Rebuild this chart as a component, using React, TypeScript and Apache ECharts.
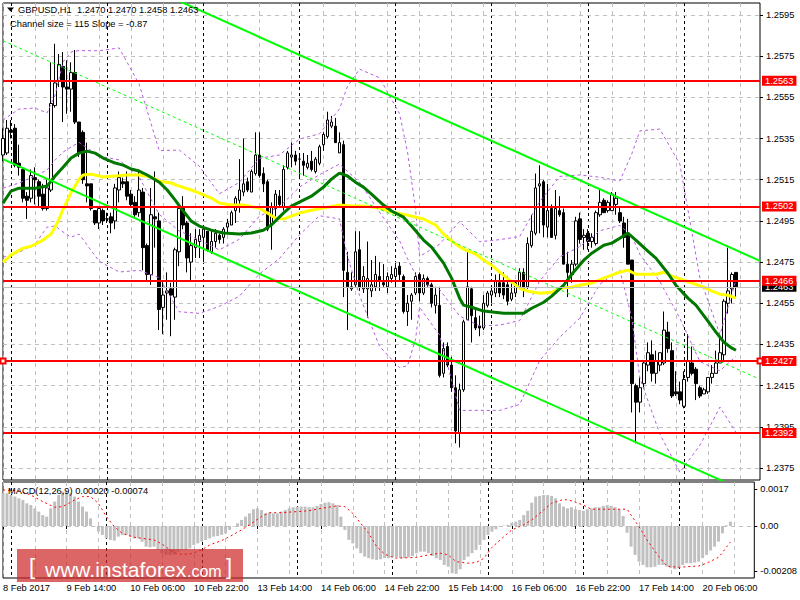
import React, { useEffect, useRef } from "react";
import * as echarts from "echarts";

const FONT = "'Liberation Sans', Arial, Helvetica, sans-serif";
const FS = 9.3;

const SYMBOL_TITLE = "GBPUSD,H1";
const CHANNEL_TEXT = "Channel size = 115 Slope = -0.87";
const MACD_NAME = "MACD(12,26,9)";

const TOTAL_SLOTS = 190;
const TIME_LABELS = [
  "8 Feb 2017", "9 Feb 14:00", "10 Feb 06:00", "10 Feb 22:00", "13 Feb 14:00", "14 Feb 06:00",
  "14 Feb 22:00", "15 Feb 14:00", "16 Feb 06:00", "16 Feb 22:00", "17 Feb 14:00", "20 Feb 06:00",
];
const LABEL_EVERY = 16;

const PRICE_TICKS = [1.2375, 1.2395, 1.2415, 1.2435, 1.2455, 1.2475, 1.2495, 1.2515, 1.2535, 1.2555, 1.2575, 1.2595];
const MAIN_MIN = 1.23692;
const MAIN_MAX = 1.26008;
const LEVELS = [1.2563, 1.2502, 1.2466, 1.2392];
const LEVEL_MARKED = 1.2427;
const CURRENT_PRICE = 1.2463;

const MACD_TICKS = [0.0017, 0, -0.00208];
const MACD_TICK_LABELS = ["0.0017", "0.00", "-0.00208"];
const MACD_MIN = -0.00239;
const MACD_MAX = 0.00202;

const OPEN = [
  1.2527, 1.2528, 1.2539, 1.2540, 1.2523, 1.2520, 1.2507, 1.2506, 1.2516, 1.2514,
  1.2508, 1.2501, 1.2510, 1.2551, 1.2563, 1.2570, 1.2560, 1.2559, 1.2567, 1.2543,
  1.2538, 1.2513, 1.2513, 1.2500, 1.2494, 1.2500, 1.2496, 1.2497, 1.2495, 1.2510,
  1.2514, 1.2514, 1.2508, 1.2504, 1.2499, 1.2509, 1.2483, 1.2469, 1.2497, 1.2495,
  1.2453, 1.2460, 1.2462, 1.2458, 1.2480, 1.2501, 1.2494, 1.2475, 1.2482, 1.2485,
  1.2487, 1.2490, 1.2480, 1.2485, 1.2488, 1.2487, 1.2492, 1.2493, 1.2500, 1.2505,
  1.2509, 1.2514, 1.2509, 1.2518, 1.2527, 1.2518, 1.2514, 1.2493, 1.2501, 1.2507,
  1.2502, 1.2521, 1.2526, 1.2527, 1.2525, 1.2524, 1.2521, 1.2524, 1.2519, 1.2523,
  1.2532, 1.2536, 1.2541, 1.2541, 1.2528, 1.2532, 1.2470, 1.2462, 1.2464, 1.2481,
  1.2462, 1.2462, 1.2461, 1.2463, 1.2468, 1.2465, 1.2463, 1.2467, 1.2468, 1.2473,
  1.2468, 1.2451, 1.2456, 1.2460, 1.2469, 1.2460, 1.2467, 1.2464, 1.2454, 1.2454,
  1.2421, 1.2434, 1.2425, 1.2414, 1.2392, 1.2413, 1.2447, 1.2462, 1.2448, 1.2444,
  1.2443, 1.2454, 1.2459, 1.2460, 1.2465, 1.2465, 1.2464, 1.2457, 1.2460, 1.2463,
  1.2470, 1.2463, 1.2483, 1.2489, 1.2512, 1.2514, 1.2492, 1.2501, 1.2488, 1.2500,
  1.2499, 1.2474, 1.2469, 1.2474, 1.2496, 1.2487, 1.2489, 1.2485, 1.2484, 1.2498,
  1.2505, 1.2500, 1.2500, 1.2503, 1.2499, 1.2494, 1.2489, 1.2476, 1.2415, 1.2407,
  1.2416, 1.2425, 1.2430, 1.2421, 1.2425, 1.2426, 1.2441, 1.2432, 1.2412, 1.2412,
  1.2405, 1.2419, 1.2426, 1.2423, 1.2414, 1.2411, 1.2412, 1.2419, 1.2421, 1.2426,
  1.2430, 1.2455, 1.2462, 1.2470,
];
const HIGH = [
  1.2540, 1.2544, 1.2544, 1.2542, 1.2532, 1.2521, 1.2509, 1.2520, 1.2521, 1.2515,
  1.2513, 1.2515, 1.2572, 1.2581, 1.2576, 1.2577, 1.2573, 1.2572, 1.2578, 1.2543,
  1.2539, 1.2533, 1.2513, 1.2500, 1.2502, 1.2501, 1.2499, 1.2499, 1.2513, 1.2519,
  1.2516, 1.2519, 1.2510, 1.2507, 1.2519, 1.2511, 1.2484, 1.2511, 1.2519, 1.2499,
  1.2466, 1.2470, 1.2465, 1.2482, 1.2503, 1.2507, 1.2495, 1.2489, 1.2491, 1.2491,
  1.2493, 1.2490, 1.2491, 1.2491, 1.2489, 1.2492, 1.2496, 1.2500, 1.2507, 1.2525,
  1.2535, 1.2516, 1.2520, 1.2538, 1.2538, 1.2521, 1.2515, 1.2504, 1.2510, 1.2510,
  1.2522, 1.2529, 1.2533, 1.2529, 1.2528, 1.2528, 1.2527, 1.2529, 1.2526, 1.2532,
  1.2538, 1.2548, 1.2546, 1.2545, 1.2538, 1.2534, 1.2480, 1.2470, 1.2490, 1.2490,
  1.2473, 1.2485, 1.2476, 1.2478, 1.2475, 1.2474, 1.2470, 1.2473, 1.2474, 1.2475,
  1.2469, 1.2459, 1.2460, 1.2470, 1.2470, 1.2469, 1.2468, 1.2465, 1.2463, 1.2463,
  1.2436, 1.2436, 1.2429, 1.2420, 1.2416, 1.2447, 1.2480, 1.2463, 1.2453, 1.2449,
  1.2459, 1.2461, 1.2463, 1.2469, 1.2470, 1.2470, 1.2468, 1.2465, 1.2466, 1.2472,
  1.2472, 1.2487, 1.2498, 1.2518, 1.2522, 1.2515, 1.2513, 1.2503, 1.2510, 1.2507,
  1.2501, 1.2480, 1.2476, 1.2497, 1.2499, 1.2491, 1.2491, 1.2489, 1.2500, 1.2510,
  1.2506, 1.2505, 1.2509, 1.2509, 1.2502, 1.2497, 1.2496, 1.2476, 1.2416, 1.2419,
  1.2427, 1.2436, 1.2437, 1.2432, 1.2431, 1.2451, 1.2446, 1.2436, 1.2422, 1.2417,
  1.2422, 1.2440, 1.2434, 1.2424, 1.2415, 1.2414, 1.2419, 1.2425, 1.2432, 1.2438,
  1.2457, 1.2482, 1.2470, 1.2470,
];
const LOW = [
  1.2524, 1.2527, 1.2535, 1.2521, 1.2517, 1.2504, 1.2496, 1.2504, 1.2503, 1.2502,
  1.2500, 1.2500, 1.2509, 1.2550, 1.2560, 1.2543, 1.2547, 1.2548, 1.2542, 1.2526,
  1.2513, 1.2504, 1.2500, 1.2493, 1.2491, 1.2493, 1.2494, 1.2489, 1.2491, 1.2504,
  1.2511, 1.2505, 1.2502, 1.2497, 1.2497, 1.2471, 1.2466, 1.2464, 1.2482, 1.2442,
  1.2440, 1.2447, 1.2439, 1.2447, 1.2473, 1.2491, 1.2470, 1.2466, 1.2477, 1.2477,
  1.2475, 1.2480, 1.2479, 1.2482, 1.2484, 1.2484, 1.2489, 1.2493, 1.2494, 1.2499,
  1.2507, 1.2509, 1.2509, 1.2517, 1.2516, 1.2509, 1.2490, 1.2481, 1.2497, 1.2502,
  1.2500, 1.2520, 1.2521, 1.2522, 1.2516, 1.2517, 1.2520, 1.2519, 1.2518, 1.2522,
  1.2529, 1.2535, 1.2540, 1.2533, 1.2528, 1.2458, 1.2442, 1.2461, 1.2463, 1.2461,
  1.2460, 1.2448, 1.2458, 1.2461, 1.2461, 1.2463, 1.2460, 1.2465, 1.2463, 1.2466,
  1.2450, 1.2444, 1.2447, 1.2459, 1.2456, 1.2459, 1.2463, 1.2453, 1.2450, 1.2419,
  1.2419, 1.2424, 1.2412, 1.2387, 1.2385, 1.2412, 1.2447, 1.2436, 1.2442, 1.2439,
  1.2442, 1.2453, 1.2455, 1.2458, 1.2458, 1.2457, 1.2454, 1.2456, 1.2458, 1.2462,
  1.2458, 1.2462, 1.2482, 1.2488, 1.2489, 1.2487, 1.2487, 1.2487, 1.2486, 1.2497,
  1.2474, 1.2458, 1.2465, 1.2473, 1.2484, 1.2481, 1.2481, 1.2482, 1.2483, 1.2497,
  1.2499, 1.2499, 1.2500, 1.2498, 1.2494, 1.2482, 1.2474, 1.2402, 1.2387, 1.2402,
  1.2414, 1.2422, 1.2417, 1.2416, 1.2422, 1.2425, 1.2431, 1.2409, 1.2410, 1.2406,
  1.2404, 1.2417, 1.2420, 1.2408, 1.2409, 1.2411, 1.2411, 1.2416, 1.2421, 1.2426,
  1.2427, 1.2450, 1.2455, 1.2458,
];
const CLOSE = [
  1.2535, 1.2540, 1.2538, 1.2522, 1.2521, 1.2506, 1.2505, 1.2517, 1.2515, 1.2507,
  1.2501, 1.2511, 1.2552, 1.2562, 1.2571, 1.2560, 1.2559, 1.2567, 1.2543, 1.2528,
  1.2515, 1.2512, 1.2501, 1.2494, 1.2501, 1.2495, 1.2496, 1.2494, 1.2511, 1.2516,
  1.2513, 1.2507, 1.2503, 1.2498, 1.2510, 1.2482, 1.2469, 1.2498, 1.2496, 1.2452,
  1.2459, 1.2461, 1.2459, 1.2481, 1.2501, 1.2493, 1.2477, 1.2483, 1.2486, 1.2488,
  1.2491, 1.2481, 1.2485, 1.2489, 1.2486, 1.2491, 1.2494, 1.2499, 1.2506, 1.2510,
  1.2513, 1.2510, 1.2519, 1.2527, 1.2517, 1.2513, 1.2491, 1.2502, 1.2508, 1.2503,
  1.2520, 1.2528, 1.2527, 1.2524, 1.2525, 1.2522, 1.2523, 1.2520, 1.2525, 1.2531,
  1.2537, 1.2544, 1.2543, 1.2533, 1.2533, 1.2471, 1.2463, 1.2463, 1.2480, 1.2463,
  1.2468, 1.2467, 1.2464, 1.2469, 1.2466, 1.2464, 1.2468, 1.2469, 1.2472, 1.2469,
  1.2451, 1.2455, 1.2459, 1.2468, 1.2460, 1.2467, 1.2464, 1.2455, 1.2459, 1.2420,
  1.2433, 1.2425, 1.2414, 1.2393, 1.2413, 1.2446, 1.2463, 1.2449, 1.2443, 1.2443,
  1.2455, 1.2460, 1.2461, 1.2466, 1.2460, 1.2459, 1.2456, 1.2460, 1.2465, 1.2470,
  1.2462, 1.2484, 1.2490, 1.2511, 1.2513, 1.2493, 1.2500, 1.2487, 1.2501, 1.2498,
  1.2474, 1.2470, 1.2474, 1.2495, 1.2486, 1.2488, 1.2485, 1.2487, 1.2499, 1.2504,
  1.2499, 1.2504, 1.2508, 1.2506, 1.2495, 1.2487, 1.2474, 1.2416, 1.2407, 1.2414,
  1.2426, 1.2431, 1.2421, 1.2427, 1.2431, 1.2442, 1.2433, 1.2410, 1.2411, 1.2408,
  1.2418, 1.2427, 1.2421, 1.2416, 1.2410, 1.2413, 1.2419, 1.2421, 1.2426, 1.2431,
  1.2456, 1.2461, 1.2469, 1.2463,
];

// Moving averages, read at sampled bars: [bar, price]
const MA_GREEN = [
  [0, 1.25036], [2, 1.25095], [4, 1.25109], [8, 1.25109], [11, 1.25119], [13, 1.25168], [15, 1.25211],
  [17, 1.25255], [19, 1.25279], [21, 1.25289], [23, 1.25279], [25, 1.25255], [28, 1.25231], [30, 1.25221],
  [32, 1.25202], [34, 1.25192], [36, 1.25173], [39, 1.25138], [41, 1.251], [43, 1.25051], [45, 1.24998],
  [47, 1.24949], [49, 1.24925], [52, 1.24905], [55, 1.24891], [59, 1.24886], [62, 1.24891], [65, 1.24905],
  [67, 1.2493], [70, 1.24988], [72, 1.25022], [75, 1.25051], [77, 1.2507], [80, 1.25114], [82, 1.25153],
  [84, 1.25182], [86, 1.25168], [88, 1.25138], [90, 1.25114], [92, 1.2508], [95, 1.25027], [97, 1.24998],
  [100, 1.24968], [102, 1.24925], [105, 1.24857], [107, 1.24823], [110, 1.24745], [112, 1.24672],
  [114, 1.24575], [115, 1.24541], [117, 1.24531], [120, 1.24512], [125, 1.24502], [130, 1.24502],
  [132, 1.24526], [135, 1.24555], [137, 1.24585], [140, 1.24638], [142, 1.24691], [145, 1.24759],
  [147, 1.24793], [150, 1.24832], [152, 1.24842], [154, 1.24866], [156, 1.24891], [158, 1.24857],
  [161, 1.24803], [163, 1.24769], [166, 1.24696], [168, 1.24638], [171, 1.24575], [173, 1.24541],
  [176, 1.24463], [178, 1.2441], [180, 1.24361], [182, 1.24332], [183, 1.24322],
];
const MA_YELLOW = [
  [0, 1.2475], [2, 1.24784], [5, 1.24818], [7, 1.24827], [10, 1.24857], [12, 1.24886], [13, 1.2492],
  [14, 1.24959], [15, 1.25007], [16, 1.25046], [17, 1.2509], [18, 1.25119], [19, 1.25153], [20, 1.25173],
  [22, 1.25177], [25, 1.25163], [28, 1.25168], [31, 1.25173], [34, 1.25173], [37, 1.25163], [39, 1.25143],
  [42, 1.25134], [44, 1.25119], [47, 1.251], [49, 1.25085], [52, 1.25061], [54, 1.25037], [57, 1.25027],
  [60, 1.25027], [64, 1.25012], [66, 1.24988], [68, 1.24964], [70, 1.24959], [72, 1.24973], [74, 1.24988],
  [77, 1.25002], [80, 1.25012], [84, 1.25027], [87, 1.25022], [90, 1.25022], [94, 1.25012], [97, 1.24993],
  [101, 1.24978], [105, 1.24959], [108, 1.2493], [110, 1.24886], [113, 1.24837], [115, 1.24813],
  [118, 1.24789], [120, 1.2476], [122, 1.24735], [124, 1.24701], [127, 1.24653], [129, 1.24623],
  [131, 1.24609], [134, 1.24599], [137, 1.24604], [139, 1.24623], [142, 1.24628], [144, 1.24638],
  [147, 1.24648], [150, 1.24672], [152, 1.24687], [154, 1.24701], [156, 1.24711], [158, 1.24691],
  [161, 1.24691], [163, 1.24691], [165, 1.24701], [167, 1.24682], [170, 1.24662], [172, 1.24648],
  [175, 1.24628], [177, 1.24609], [179, 1.24594], [181, 1.24589], [183, 1.24575],
];

// Bollinger bands (purple dashed), read at sampled bars
const BB_UPPER = [
  [0, 1.2544], [4, 1.25493], [8, 1.25498], [11, 1.25474], [13, 1.25561], [15, 1.25722], [17, 1.2577],
  [19, 1.25777], [24, 1.25776], [29, 1.2579], [34, 1.25614], [39, 1.25291], [44, 1.25294], [49, 1.25216],
  [54, 1.25082], [59, 1.25137], [64, 1.25254], [69, 1.2527], [74, 1.25347], [79, 1.25373], [84, 1.25493],
  [86, 1.25603], [89, 1.25687], [94, 1.25645], [99, 1.25471], [101, 1.25284], [103, 1.25007], [104, 1.24777],
  [109, 1.24837], [114, 1.24947], [119, 1.24849], [124, 1.24859], [129, 1.24874], [134, 1.25044],
  [139, 1.25166], [144, 1.25173], [149, 1.25162], [154, 1.25144], [157, 1.25276], [159, 1.25387],
  [164, 1.25396], [169, 1.25225], [174, 1.24673], [179, 1.24398], [183, 1.24663],
];
const BB_MIDDLE = [
  [0, 1.25109], [4, 1.25134], [8, 1.25168], [11, 1.25197], [13, 1.25245], [15, 1.25284], [17, 1.25309],
  [19, 1.25331], [24, 1.25265], [29, 1.25246], [34, 1.25162], [39, 1.24982], [44, 1.24901], [49, 1.24858],
  [54, 1.24809], [59, 1.24861], [64, 1.24973], [69, 1.25018], [74, 1.25114], [79, 1.25174], [84, 1.25226],
  [86, 1.25191], [89, 1.25138], [94, 1.24993], [99, 1.24854], [101, 1.24766], [103, 1.2469], [104, 1.24654],
  [109, 1.24617], [114, 1.24488], [119, 1.2444], [124, 1.24444], [129, 1.24466], [134, 1.24658],
  [139, 1.24775], [144, 1.24825], [149, 1.24902], [154, 1.24928], [157, 1.24877], [159, 1.24788],
  [164, 1.24655], [169, 1.24477], [174, 1.24267], [179, 1.24222], [183, 1.24293],
];
const BB_LOWER = [
  [0, 1.24774], [4, 1.24798], [8, 1.24837], [11, 1.2492], [13, 1.24925], [15, 1.24896], [17, 1.24871],
  [19, 1.24886], [24, 1.24754], [29, 1.24702], [34, 1.2471], [39, 1.24674], [44, 1.24509], [49, 1.24501],
  [54, 1.24535], [59, 1.24584], [64, 1.24692], [69, 1.24767], [74, 1.24882], [79, 1.24975], [84, 1.2496],
  [86, 1.24779], [89, 1.24588], [94, 1.24341], [99, 1.24237], [101, 1.24247], [103, 1.24375], [104, 1.24531],
  [109, 1.24396], [114, 1.2403], [119, 1.2403], [124, 1.2403], [129, 1.24059], [134, 1.24272],
  [139, 1.24385], [144, 1.24478], [149, 1.24642], [154, 1.24712], [157, 1.24478], [159, 1.24188],
  [164, 1.23915], [169, 1.23729], [174, 1.23861], [179, 1.24046], [183, 1.23923],
];

// Regression channel (size 115 pips, slope -0.87 pips per bar)
const CHANNEL_UPPER = [[0, 1.264], [189, 1.24756]];
const CHANNEL_MIDDLE = [[0, 1.25825], [189, 1.24181]];
const CHANNEL_LOWER = [[0, 1.2525], [189, 1.23606]];

const MACD_MAIN = [
  0.0015, 0.0015, 0.00142, 0.00135, 0.00127, 0.00119, 0.00104, 0.00096, 0.00081, 0.00066,
  0.0005, 0.00043, 0.00081, 0.00112, 0.00142, 0.00158, 0.00153, 0.0015, 0.00135, 0.00112,
  0.00089, 0.00066, 0.00035, -0.00002, -0.00026, -0.00041, -0.00057, -0.00064, -0.00067, -0.00049,
  -0.00041, -0.00041, -0.00049, -0.00057, -0.00057, -0.00072, -0.00095, -0.00098, -0.00095, -0.0011,
  -0.00125, -0.00133, -0.00133, -0.00133, -0.00118, -0.0011, -0.0011, -0.00103, -0.00087, -0.0008,
  -0.00072, -0.00064, -0.00057, -0.00049, -0.00046, -0.00041, -0.00034, -0.00018, -0.00003, 0.00012,
  0.00028, 0.00043, 0.00058, 0.00077, 0.00081, 0.00073, 0.00058, 0.00061, 0.00058, 0.00058,
  0.00066, 0.00073, 0.00081, 0.00086, 0.00089, 0.00089, 0.00089, 0.00086, 0.00086, 0.00092,
  0.00101, 0.00107, 0.00109, 0.00104, 0.00096, 0.00043, -0.00018, -0.00064, -0.0008, -0.00103,
  -0.00125, -0.00141, -0.00148, -0.00153, -0.00156, -0.00153, -0.00148, -0.00148, -0.00141, -0.00144,
  -0.00148, -0.00148, -0.00144, -0.00138, -0.00125, -0.00118, -0.00118, -0.00125, -0.00138, -0.00148,
  -0.00156, -0.00179, -0.00187, -0.00217, -0.0022, -0.00199, -0.00156, -0.00141, -0.00125, -0.0011,
  -0.00087, -0.00064, -0.00041, -0.00026, -0.00015, -0.00003, 0.00002, 0.00005, 0.00015, 0.0002,
  0.00028, 0.0005, 0.0007, 0.00107, 0.00135, 0.00138, 0.00142, 0.00142, 0.00138, 0.00127,
  0.00104, 0.00089, 0.00081, 0.00086, 0.00077, 0.00073, 0.0007, 0.00077, 0.00081, 0.00086,
  0.00086, 0.00092, 0.00096, 0.00092, 0.00086, 0.00077, 0.00046, -0.00031, -0.00095, -0.00133,
  -0.00164, -0.00179, -0.0019, -0.0019, -0.00187, -0.00179, -0.00179, -0.00187, -0.00194, -0.00199,
  -0.00194, -0.00179, -0.00171, -0.00171, -0.00168, -0.00164, -0.00148, -0.00133, -0.00113, -0.00095,
  -0.00072, -0.00034, 0.00003, 0.0002,
];
const MACD_SIGNAL = [
  [0, 0.00165], [4, 0.00162], [7, 0.00142], [10, 0.00112], [13, 0.00086], [15, 0.00089], [18, 0.00119],
  [20, 0.00135], [22, 0.00135], [24, 0.00104], [26, 0.00043], [28, -0.00003], [30, -0.00034], [33, -0.00052],
  [35, -0.00057], [38, -0.00064], [40, -0.00083], [42, -0.0011], [44, -0.00129], [47, -0.00129], [50, -0.0011],
  [52, -0.00087], [55, -0.00067], [57, -0.00049], [60, -0.00018], [62, 0.00005], [65, 0.00043], [67, 0.00061],
  [70, 0.00061], [74, 0.00066], [77, 0.0007], [80, 0.00081], [84, 0.00092], [86, 0.00089], [88, 0.00058],
  [90, 0.00012], [92, -0.00034], [94, -0.00095], [96, -0.00129], [98, -0.00144], [99, -0.00148],
  [104, -0.00144], [107, -0.00133], [110, -0.00125], [112, -0.00133], [114, -0.00164], [117, -0.00171],
  [119, -0.00168], [121, -0.00148], [123, -0.00098], [126, -0.00049], [128, -0.00018], [131, 0.00005],
  [133, 0.00028], [136, 0.00073], [138, 0.00104], [141, 0.00122], [143, 0.00116], [146, 0.00096],
  [148, 0.00077], [151, 0.00077], [157, 0.00077], [158, 0.0005], [160, -0.00003], [162, -0.00064],
  [165, -0.00141], [167, -0.00184], [170, -0.0019], [172, -0.00187], [175, -0.00184], [177, -0.00171],
  [180, -0.00144], [181, -0.00122], [182, -0.00097], [183, -0.00074],
];

const CATEGORIES = Array.from({ length: TOTAL_SLOTS }, (_, i) => String(i));
const LAST = CLOSE.length - 1;
const f4 = (v: number) => v.toFixed(4);
const TITLE = `${SYMBOL_TITLE}  ${f4(OPEN[LAST])} ${f4(HIGH[LAST])} ${f4(LOW[LAST])} ${f4(CLOSE[LAST])}`;
const MACD_TITLE = `${MACD_NAME} ${MACD_MAIN[LAST].toFixed(5)} ${MACD_SIGNAL[MACD_SIGNAL.length - 1][1].toFixed(5)}`;

const GRID_LEFT = 3;
const GRID_WIDTH = 757;

const levelLabel = (bg: string) => ({
  show: true,
  position: "end",
  distance: 2,
  formatter: (p: any) => Number(p.value).toFixed(4),
  color: "#fff",
  backgroundColor: bg,
  padding: [1, 3, 0, 3],
  fontSize: FS,
  fontFamily: FONT,
});

function xAxisPair(gridIndex: number, withLabels: boolean) {
  return [
    {
      type: "category", gridIndex, data: CATEGORIES, boundaryGap: false,
      axisLine: { show: false },
      axisTick: withLabels
        ? { show: true, interval: (i: number) => i % LABEL_EVERY === 0, length: 3, lineStyle: { color: "#000" } }
        : { show: false },
      axisLabel: withLabels
        ? {
            show: true, interval: (i: number) => i % LABEL_EVERY === 0,
            formatter: (_v: string, idx: number) => TIME_LABELS[idx / LABEL_EVERY] ?? "",
            align: "left", margin: 5, color: "#000", fontSize: FS, fontFamily: FONT,
          }
        : { show: false },
      splitLine: { show: true, interval: (i: number) => i % 8 === 0, lineStyle: { color: "#c0c0c0", type: [4, 4], width: 1 } },
    },
    {
      type: "category", gridIndex, data: CATEGORIES, boundaryGap: false,
      axisLine: { show: false }, axisTick: { show: false }, axisLabel: { show: false },
      splitLine: { show: true, interval: (i: number) => i >= 2 && (i - 2) % 24 === 0, lineStyle: { color: "#000", type: [3, 3], width: 1 } },
    },
  ];
}

const lineSeries = (data: number[][], color: string, width: number, type: any, extra: any = {}) => ({
  type: "line", xAxisIndex: 0, yAxisIndex: 0, data, symbol: "none", showSymbol: false, silent: true,
  lineStyle: { color, width, type }, clip: true, ...extra,
});

const option: any = {
  animation: false,
  backgroundColor: "#fff",
  textStyle: { fontFamily: FONT },
  grid: [
    { left: GRID_LEFT, top: 3, width: GRID_WIDTH, height: 477, show: true, borderColor: "#000", borderWidth: 1, backgroundColor: "transparent" },
    { left: GRID_LEFT, top: 482, width: GRID_WIDTH, height: 96, show: true, borderColor: "#000", borderWidth: 1, backgroundColor: "transparent" },
  ],
  xAxis: [...xAxisPair(0, false), ...xAxisPair(1, true)],
  yAxis: [
    {
      type: "value", gridIndex: 0, position: "right", min: MAIN_MIN, max: MAIN_MAX, scale: true,
      axisLine: { show: false },
      axisTick: { show: true, length: 3, lineStyle: { color: "#000" }, customValues: PRICE_TICKS },
      axisLabel: { show: true, customValues: PRICE_TICKS, formatter: (v: number) => v.toFixed(4), margin: 6, color: "#000", fontSize: FS, fontFamily: FONT },
      splitLine: { show: false },
    },
    {
      type: "value", gridIndex: 1, position: "right", min: MACD_MIN, max: MACD_MAX,
      axisLine: { show: false },
      axisTick: { show: true, length: 3, lineStyle: { color: "#000" }, customValues: MACD_TICKS },
      axisLabel: {
        show: true, customValues: MACD_TICKS, margin: 6, color: "#000", fontSize: FS, fontFamily: FONT,
        formatter: (v: number) => {
          const i = MACD_TICKS.findIndex((t) => Math.abs(t - v) < 1e-9);
          return i >= 0 ? MACD_TICK_LABELS[i] : "";
        },
      },
      splitLine: { show: false },
    },
  ],
  series: [
    {
      type: "candlestick", xAxisIndex: 0, yAxisIndex: 0, silent: true, barWidth: 3,
      data: OPEN.map((o, i) => [o, CLOSE[i], LOW[i], HIGH[i]]),
      itemStyle: { color: "#fff", color0: "#000", borderColor: "#000", borderColor0: "#000", borderWidth: 1 },
      markLine: {
        silent: true, symbol: "none", z: 6, animation: false, precision: 6,
        lineStyle: { color: "#ff0000", width: 2, type: "solid" },
        label: levelLabel("#ff0000"),
        data: [
          { yAxis: CURRENT_PRICE, lineStyle: { color: "#c0c0c0", width: 1, type: "solid" }, label: levelLabel("#000") },
          ...LEVELS.map((v) => ({ yAxis: v })),
        ],
      },
    },
    lineSeries(BB_UPPER, "#b65ce0", 1, [3, 3]),
    lineSeries(BB_MIDDLE, "#b65ce0", 1, [3, 3]),
    lineSeries(BB_LOWER, "#b65ce0", 1, [3, 3]),
    lineSeries(MA_YELLOW, "#ffff00", 3, "solid"),
    lineSeries(MA_GREEN, "#007800", 3, "solid"),
    lineSeries(CHANNEL_LOWER, "#00ff00", 2, "solid"),
    lineSeries(CHANNEL_UPPER, "#00ff00", 2, "solid", {
      markLine: {
        silent: true, symbol: ["emptyRect", "emptyRect"], symbolSize: 5, z: 6, animation: false, precision: 6,
        lineStyle: { color: "#ff0000", width: 2, type: "solid" },
        label: levelLabel("#ff0000"),
        data: [{ yAxis: LEVEL_MARKED }],
      },
    }),
    lineSeries(CHANNEL_MIDDLE, "#00ff00", 1, [3, 3], {
      markLine: {
        silent: true, symbol: "none", z: 1, animation: false, precision: 6,
        label: { show: false },
        lineStyle: { color: "#c0c0c0", width: 1, type: [4, 4] },
        data: PRICE_TICKS.map((v) => ({ yAxis: v })),
      },
    }),
    {
      type: "bar", xAxisIndex: 2, yAxisIndex: 1, data: MACD_MAIN, barWidth: 3, silent: true,
      itemStyle: { color: "#c0c0c0" },
      markLine: {
        silent: true, symbol: "none", z: 1, animation: false, precision: 6, label: { show: false },
        lineStyle: { color: "#c0c0c0", width: 1, type: [4, 4] },
        data: [{ yAxis: 0 }],
      },
    },
    {
      type: "line", xAxisIndex: 2, yAxisIndex: 1, data: MACD_SIGNAL, symbol: "none", showSymbol: false, silent: true,
      lineStyle: { color: "#ff0000", width: 1, type: [2, 3] }, z: 3,
    },
  ],
  graphic: [
    { type: "polygon", shape: { points: [[7, 7.5], [14, 7.5], [10.5, 11.5]] }, style: { fill: "#000" }, z: 50 },
    { type: "text", x: 18, y: 10, style: { text: TITLE, fill: "#000", fontSize: FS, fontFamily: FONT, verticalAlign: "middle" }, z: 50 },
    { type: "text", x: 10, y: 24, style: { text: CHANNEL_TEXT, fill: "#000", fontSize: FS, fontFamily: FONT, verticalAlign: "middle" }, z: 50 },
    { type: "text", x: 8, y: 490.5, style: { text: MACD_TITLE, fill: "#000", fontSize: FS, fontFamily: FONT, verticalAlign: "middle" }, z: 50 },
    { type: "rect", shape: { x: 17, y: 549, width: 226, height: 33 }, style: { fill: "rgba(205,35,35,0.7)" }, z: 60 },
    { type: "text", x: 29, y: 566, style: { text: "[", fill: "#fff", fontSize: 22, fontFamily: FONT, verticalAlign: "middle" }, z: 61 },
    { type: "text", x: 45, y: 569.5, style: { text: "www.instaforex", fill: "#fff", fontSize: 21, fontFamily: FONT, verticalAlign: "middle" }, z: 61 },
    { type: "text", x: 187, y: 571.5, style: { text: ".com", fill: "#fff", fontSize: 16, fontFamily: FONT, verticalAlign: "middle" }, z: 61 },
    { type: "text", x: 226, y: 566, style: { text: "]", fill: "#fff", fontSize: 22, fontFamily: FONT, verticalAlign: "middle" }, z: 61 },
  ],
};

export default function App() {
  const ref = useRef<HTMLDivElement>(null);
  useEffect(() => {
    if (!ref.current) return;
    const chart = echarts.init(ref.current, null, { renderer: "svg" });
    chart.setOption(option);
    return () => chart.dispose();
  }, []);
  return (
    <div
      ref={ref}
      style={{ position: "fixed", left: 0, top: 0, width: 800, height: 600, background: "#fff" }}
    />
  );
}
